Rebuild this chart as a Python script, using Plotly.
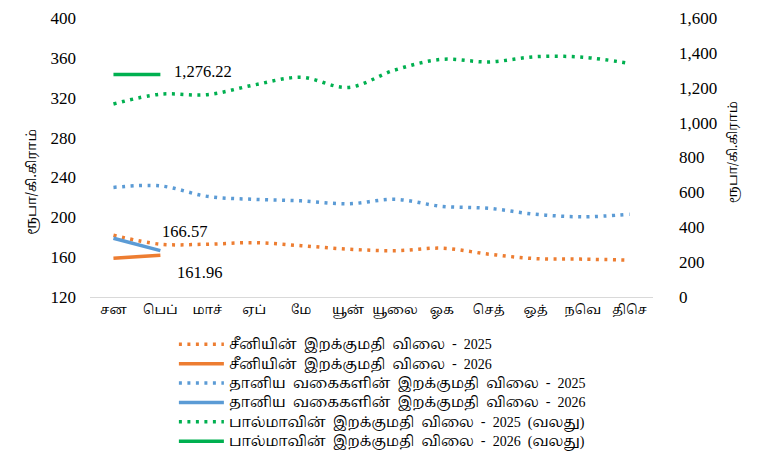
import plotly.graph_objects as go

months = ["சன", "பெப்", "மாச்", "ஏப்", "மே", "யூன்", "யூலை", "ஓக", "செத்", "ஒத்", "நவெ", "திசெ"]

sugar_2025 = [182, 173, 173, 174.5, 171.5, 168, 166.5, 169, 163, 158.5, 158, 157]
sugar_2026 = [159, 161.96]
grain_2025 = [230, 231.5, 221, 218, 216.5, 213.5, 218, 211, 209, 203, 200.5, 203]
grain_2026 = [179, 166.57]
milk_2025 = [1107, 1163, 1160, 1216, 1260, 1202, 1302, 1363, 1348, 1378, 1375, 1340]
milk_2026 = [1276.22, 1276.22]

axis_title = "ரூபா/கி.கிராம்"

SERIF = "Liberation Serif, Times New Roman, serif"
TAMIL = "Noto Serif Tamil, Noto Sans Tamil, Lohit Tamil, Open Sans, sans-serif"


def sf(t):
    return f'<span style="font-family:{SERIF}">{t}</span>'


def big(t):
    return f'<span style="font-size:14px">{t}</span>'


names = [
    big("சீனியின்  இறக்குமதி  விலை  -  " + sf("2025")),
    big("சீனியின்  இறக்குமதி  விலை  -  " + sf("2026")),
    big("தானிய  வகைகளின்  இறக்குமதி  விலை  -  " + sf("2025")),
    big("தானிய  வகைகளின்  இறக்குமதி  விலை  -  " + sf("2026")),
    big("பால்மாவின்  இறக்குமதி  விலை  -  " + sf("2025  (") + "வலது" + sf(")")),
    big("பால்மாவின்  இறக்குமதி  விலை  -  " + sf("2026  (") + "வலது" + sf(")")),
]

ORANGE = "#ED7D31"
BLUE = "#5B9BD5"
GREEN = "#00B050"
DOT = "3px,5.5px"

fig = go.Figure()
fig.add_trace(go.Scatter(x=months, y=sugar_2025, name=names[0], mode="lines",
                         line=dict(color=ORANGE, width=3.5, dash=DOT, shape="spline")))
fig.add_trace(go.Scatter(x=months[:2], y=sugar_2026, name=names[1], mode="lines",
                         line=dict(color=ORANGE, width=3.5)))
fig.add_trace(go.Scatter(x=months, y=grain_2025, name=names[2], mode="lines",
                         line=dict(color=BLUE, width=3.5, dash=DOT, shape="spline")))
fig.add_trace(go.Scatter(x=months[:2], y=grain_2026, name=names[3], mode="lines",
                         line=dict(color=BLUE, width=3.5)))
fig.add_trace(go.Scatter(x=months, y=milk_2025, name=names[4], mode="lines", yaxis="y2",
                         line=dict(color=GREEN, width=3.5, dash=DOT, shape="spline")))
fig.add_trace(go.Scatter(x=months[:2], y=milk_2026, name=names[5], mode="lines", yaxis="y2",
                         line=dict(color=GREEN, width=3.5)))

fig.add_annotation(x=months[1], y=milk_2026[1], yref="y2", text="1,276.22", showarrow=False,
                   xanchor="left", xshift=12, yshift=3, font=dict(family=SERIF, size=16.5, color="#000"))
fig.add_annotation(x=months[1], y=grain_2026[1], text=f"{grain_2026[1]:.2f}", showarrow=False,
                   xanchor="left", xshift=0, yshift=19.5, font=dict(family=SERIF, size=16.5, color="#000"))
fig.add_annotation(x=months[1], y=sugar_2026[1], text=f"{sugar_2026[1]:.2f}", showarrow=False,
                   xanchor="left", xshift=15, yshift=-17.5, font=dict(family=SERIF, size=16.5, color="#000"))

# axis titles
fig.add_annotation(xref="paper", yref="paper", x=-0.1243, y=0.412, text=axis_title, textangle=-90,
                   showarrow=False, font=dict(family=TAMIL, size=13.5, color="#000"))
fig.add_annotation(xref="paper", yref="paper", x=1.1634, y=0.52, text=axis_title, textangle=-90,
                   showarrow=False, font=dict(family=TAMIL, size=13, color="#000"))

fig.update_layout(
    width=766, height=452,
    margin=dict(l=90, r=113, t=18, b=155, autoexpand=False),
    plot_bgcolor="white", paper_bgcolor="white",
    font=dict(family=TAMIL),
    showlegend=True,
    legend=dict(x=0.149, y=-0.117, xanchor="left", yanchor="top", orientation="v",
                font=dict(family=TAMIL, size=12.6, color="#000"),
                tracegroupgap=0, itemwidth=45, bgcolor="rgba(0,0,0,0)"),
    xaxis=dict(range=[-0.5, 11.5], showgrid=False, showline=True, linecolor="#D9D9D9", linewidth=1,
               ticks="", tickfont=dict(family=TAMIL, size=13, color="#000"), zeroline=False),
    yaxis=dict(range=[120, 400], dtick=40, showgrid=False, zeroline=False, showline=False,
               tickfont=dict(family=SERIF, size=17, color="#000"), ticklabelstandoff=13),
    yaxis2=dict(range=[0, 1600], dtick=200, overlaying="y", side="right", showgrid=False,
                zeroline=False, showline=False, tickformat=",",
                tickfont=dict(family=SERIF, size=17, color="#000"), ticklabelstandoff=25),
)

fig.write_html("out.html", config={"displayModeBar": False},
               post_script="document.body.style.margin='0';")
